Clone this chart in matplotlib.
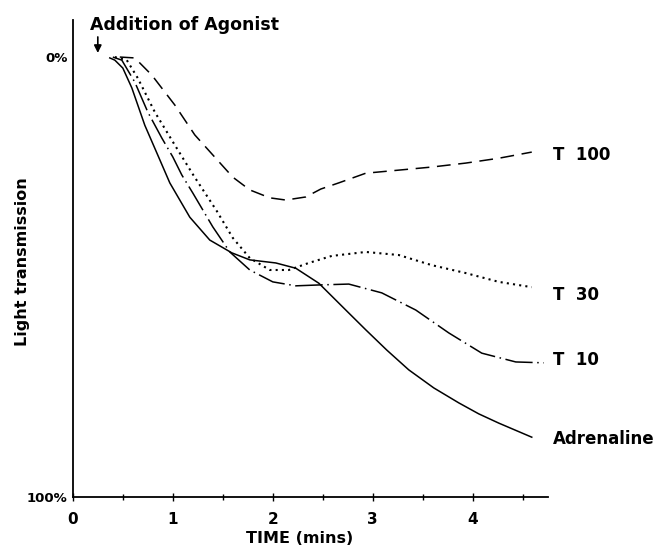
import numpy as np
import matplotlib
matplotlib.use('Agg')
import matplotlib.pyplot as plt

plt.rcParams['font.family'] = ['DejaVu Sans']
plt.rcParams['font.weight'] = 'bold'
plt.rcParams['axes.labelweight'] = 'bold'

# values: time (mins), light transmission (% aggregation, 0 at top)
adr_t = [0.37, 0.42, 0.50, 0.59, 0.72, 0.85, 0.97, 1.17, 1.37, 1.59, 1.77, 2.03, 2.23,
         2.46, 2.73, 2.93, 3.14, 3.36, 3.61, 3.86, 4.06, 4.26, 4.59]
adr_y = [0.2, 0.7, 2.5, 7.0, 15.5, 22.3, 28.6, 36.4, 41.6, 44.5, 46.1, 46.8, 48.0,
         51.4, 57.5, 62.0, 66.6, 71.1, 75.2, 78.6, 81.1, 83.2, 86.4]

t10_t = [0.40, 0.49, 0.62, 0.75, 0.89, 1.00, 1.09, 1.20, 1.40, 1.57, 1.77, 2.00, 2.23,
         2.46, 2.76, 3.09, 3.43, 3.76, 4.09, 4.43, 4.71]
t10_y = [0.0, 0.7, 5.7, 12.5, 18.4, 22.7, 26.8, 30.9, 38.6, 44.3, 48.4, 51.1, 52.0,
         51.8, 51.6, 53.6, 57.5, 62.7, 67.3, 69.3, 69.5]

t30_t = [0.42, 0.54, 0.65, 0.82, 1.02, 1.21, 1.44, 1.60, 1.77, 1.97, 2.16, 2.36, 2.59,
         2.93, 3.26, 3.59, 3.93, 4.26, 4.59]
t30_y = [0.0, 0.7, 4.8, 12.5, 20.0, 27.0, 35.0, 41.1, 45.7, 48.4, 48.4, 46.8, 45.2,
         44.3, 45.0, 47.3, 49.1, 51.1, 52.3]

t100_t = [0.47, 0.62, 0.79, 1.02, 1.22, 1.41, 1.60, 1.77, 1.97, 2.13, 2.33, 2.48, 2.66,
          2.93, 3.26, 3.59, 3.93, 4.26, 4.59]
t100_y = [0.0, 0.2, 4.1, 10.9, 17.7, 22.5, 27.3, 30.2, 32.0, 32.5, 31.8, 30.0, 28.6,
          26.4, 25.7, 25.0, 24.1, 23.0, 21.6]

labels = ['T  100', 'T  30', 'T  10', 'Adrenaline']
label_y = [22.3, 54.0, 68.9, 86.8]

fig = plt.figure(figsize=(6.68, 5.52), dpi=100)
ax = fig.add_axes([0.109, 0.0996, 0.711, 0.864])

ax.plot(adr_t, adr_y, color='black', lw=1.1, solid_joinstyle='round')
ax.plot(t10_t, t10_y, color='black', lw=1.1, linestyle=(0, (18, 3, 1, 3)))
ax.plot(t30_t, t30_y, color='black', lw=1.5, linestyle=(0, (1, 2.0)))
ax.plot(t100_t, t100_y, color='black', lw=1.1, linestyle=(0, (9, 5)))

for lab, yy in zip(labels, label_y):
    ax.text(4.80, yy, lab, fontsize=12, va='center', ha='left', clip_on=False)

ax.annotate('', xy=(0.25, -0.3), xytext=(0.25, -5.2),
            arrowprops=dict(arrowstyle='-|>', color='black', lw=1.2, mutation_scale=11))
ax.text(0.17, -7.3, 'Addition of Agonist', fontsize=12.5, va='center', ha='left')

ax.set_xlim(0, 4.75)
ax.set_ylim(100, -8.4)
ax.spines['top'].set_visible(False)
ax.spines['right'].set_visible(False)
ax.spines['left'].set_linewidth(1.3)
ax.spines['bottom'].set_linewidth(1.3)

ax.set_xticks([0, 1, 2, 3, 4])
ax.set_xticks([0.5, 1.5, 2.5, 3.5, 4.5], minor=True)
ax.tick_params(axis='x', which='major', direction='inout', length=6, width=1, labelsize=11, pad=8)
ax.tick_params(axis='x', which='minor', direction='inout', length=5, width=1)
ax.set_yticks([0, 100])
ax.set_yticklabels(['0%', '100%'])
ax.tick_params(axis='y', length=0, labelsize=9.5, pad=4)

ax.set_xlabel('TIME (mins)', fontsize=11.5)
ax.xaxis.set_label_coords(0.478, -0.072)
ax.set_ylabel('Light transmission', fontsize=11.5)
ax.yaxis.set_label_coords(-0.09, 0.493)

fig.savefig('out.png', dpi=100)
